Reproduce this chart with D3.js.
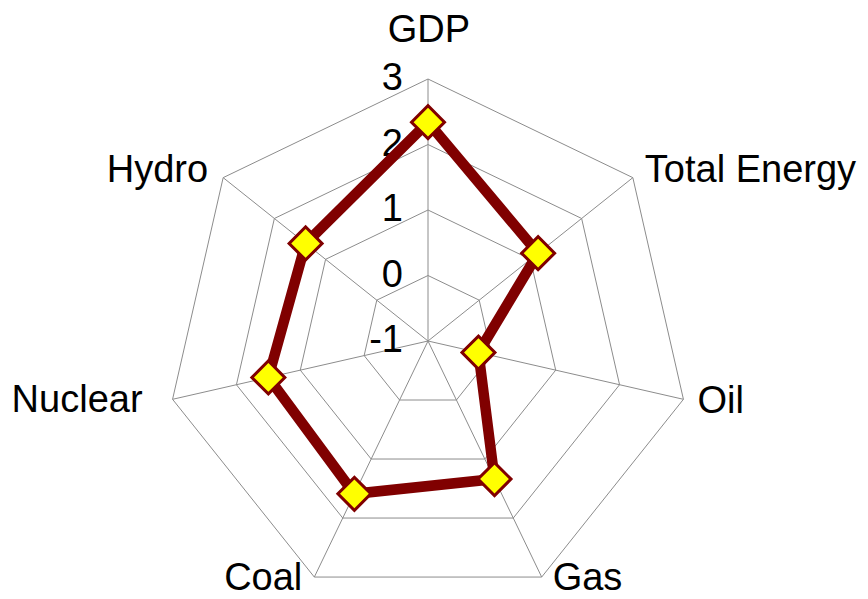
<!DOCTYPE html>
<html>
<head>
<meta charset="utf-8">
<script src="https://cdn.jsdelivr.net/npm/d3@7"></script>
<style>
  html, body { margin: 0; padding: 0; background: #fff; }
  svg { display: block; }
  text { font-family: "Liberation Sans", Arial, sans-serif; fill: #000; }
</style>
</head>
<body>
<svg id="chart" width="868" height="599"></svg>
<script>
// ---- data ----
const categories = ["GDP", "Total Energy", "Oil", "Gas", "Coal", "Nuclear", "Hydro"];
const values = [2.34, 1.15, -0.21, 1.34, 1.59, 1.50, 1.39];
const tickValues = [-1, 0, 1, 2, 3];
const tickLabels = ["-1", "0", "1", "2", "3"];

// ---- layout ----
const W = 868, H = 599;
const cx = 428, cy = 341, R = 262;
// label nudges relative to outer vertex: [dx, dy, anchor]
const labelLayout = [
  [1, -37, "middle"],
  [12, 4.5, "start"],
  [14, 14, "start"],
  [11, 12.5, "start"],
  [-12, 12.5, "end"],
  [-30, 13, "end"],
  [-15, 4.5, "end"]
];

const svg = d3.select("#chart");
const r = d3.scaleLinear().domain([-1, 3]).range([0, R]);
const angle = d3.scalePoint().domain(categories).range([0, 2 * Math.PI * (categories.length - 1) / categories.length]);

function pt(cat, v) {
  const a = angle(cat);
  const rad = r(v);
  return [cx + rad * Math.sin(a), cy - rad * Math.cos(a)];
}

const g = svg.append("g");

// grid rings
tickValues.filter(t => t > -1).forEach(t => {
  g.append("path")
    .attr("d", d3.line()(categories.map(c => pt(c, t))) + "Z")
    .attr("fill", "none")
    .attr("stroke", "#8c8c8c")
    .attr("stroke-width", 1);
});

// spokes
categories.forEach(c => {
  const [x, y] = pt(c, 3);
  g.append("line")
    .attr("x1", cx).attr("y1", cy)
    .attr("x2", x).attr("y2", y)
    .attr("stroke", "#8c8c8c")
    .attr("stroke-width", 1);
});

// tick labels
tickValues.forEach((t, i) => {
  g.append("text")
    .attr("x", cx - 25)
    .attr("y", cy - r(t) + 11)
    .attr("text-anchor", "end")
    .attr("font-size", 38)
    .text(tickLabels[i]);
});

// category labels
categories.forEach((c, i) => {
  const [x, y] = pt(c, 3);
  const [dx, dy, anchor] = labelLayout[i];
  g.append("text")
    .attr("x", x + dx)
    .attr("y", y + dy)
    .attr("text-anchor", anchor)
    .attr("font-size", 38)
    .text(c);
});

// series line
const pts = categories.map((c, i) => pt(c, values[i]));
g.append("path")
  .attr("d", d3.line()(pts) + "Z")
  .attr("fill", "none")
  .attr("stroke", "#800000")
  .attr("stroke-width", 10.5)
  .attr("stroke-linejoin", "miter");

// markers
const sym = d3.symbol().type(d3.symbolSquare).size(2 * 16.5 * 16.5);
g.selectAll(".mk")
  .data(pts)
  .enter()
  .append("path")
  .attr("class", "mk")
  .attr("d", sym)
  .attr("transform", d => `translate(${d[0]},${d[1]}) rotate(45)`)
  .attr("fill", "#ffff00")
  .attr("stroke", "#800000")
  .attr("stroke-width", 3);
</script>
</body>
</html>
